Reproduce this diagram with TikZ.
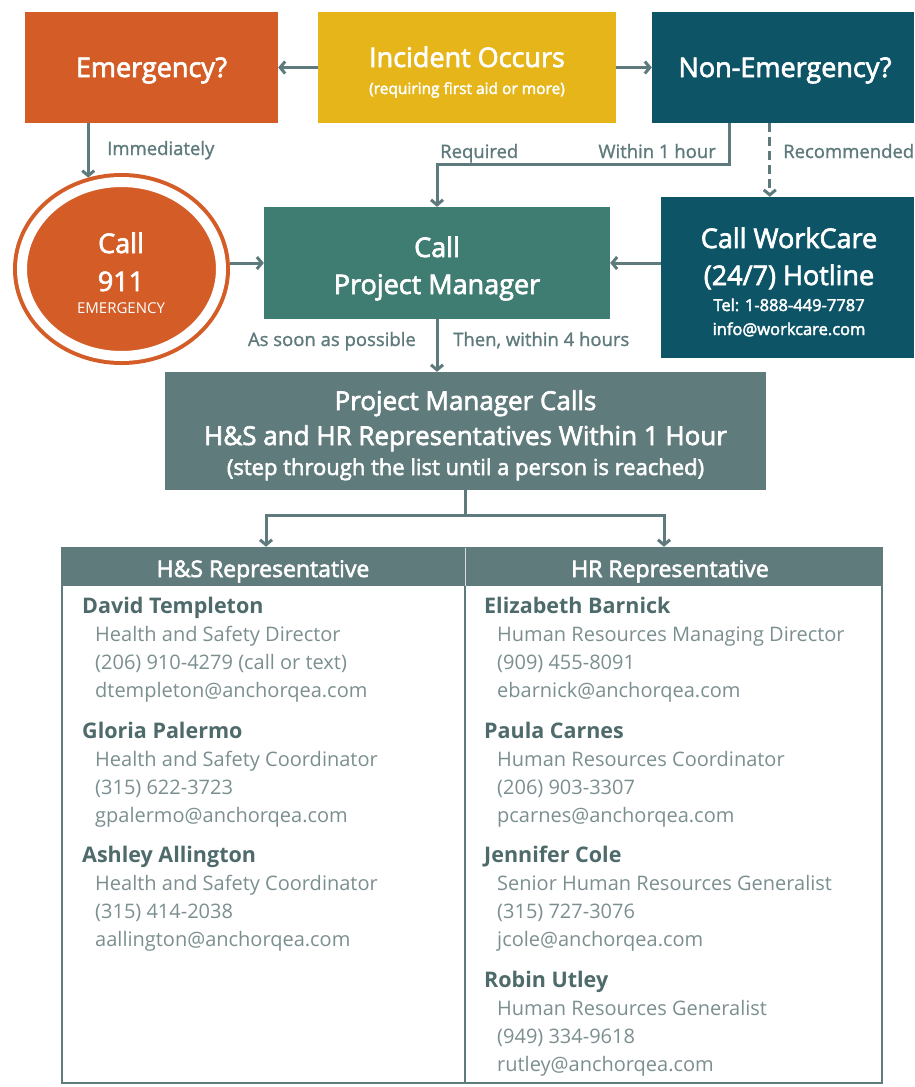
\documentclass[tikz,border=0pt]{standalone}
\usepackage{fontspec}
\setmainfont{Open Sans}
\newfontfamily\sbf[FakeBold=2.5]{Open Sans}
\newfontfamily\mbf[FakeBold=1.2]{Open Sans}
\usetikzlibrary{arrows.meta,shapes.geometric,calc}
\definecolor{orng}{HTML}{D45D27}
\definecolor{yell}{HTML}{E5B51A}
\definecolor{dteal}{HTML}{0E5467}
\definecolor{pmteal}{HTML}{3F7C72}
\definecolor{gteal}{HTML}{607B7C}
\definecolor{arrc}{HTML}{5E7A7C}
\definecolor{namec}{HTML}{4E6A6B}
\definecolor{detc}{HTML}{7C8F90}
\newcommand\fs[1]{\fontsize{#1}{#1}\selectfont}
\newcommand\contactentry[7]{%
  \node[nm] (#1) at (#2,#3) {#4};
  \node[dt] (#1a) at ({#2+13},{#3+28}) {#5};
  \node[dt] (#1b) at ({#2+13},{#3+56}) {#6};
  \node[dt] (#1c) at ({#2+13},{#3+84}) {#7};
}
\begin{document}
\begin{tikzpicture}[x=1pt,y=-1pt,
  blk/.style={rectangle, draw=none, inner sep=0pt},
  wt/.style={text=white, inner sep=0pt, anchor=base},
  arr/.style={draw=arrc, line width=3pt, -{Straight Barb[length=5pt,width=12pt]}},
  ln/.style={draw=arrc, line width=3pt},
  lab/.style={text=arrc, inner sep=0pt, font=\mbf\fs{18.5}},
  nm/.style={text=namec, inner sep=0pt, anchor=base west, font=\bfseries\fs{21.5}},
  dt/.style={text=detc, inner sep=0pt, anchor=base west, font=\fs{20}},
  ttl/.style={wt, font=\sbf\fs{27}},
]
\useasboundingbox (0,0) rectangle (914,1087);
\fill[white] (0,0) rectangle (914,1087);

% top row
\node[blk, fill=orng, minimum width=253pt, minimum height=111pt] (em) at (151.5,67.5) {};
\node[blk, fill=yell, minimum width=298pt, minimum height=111pt] (inc) at (467,67.5) {};
\node[blk, fill=dteal, minimum width=262pt, minimum height=111pt] (nonem) at (783,67.5) {};
\node[ttl] (emt) at (151.5,77) {Emergency?};
\node[ttl] (inct) at (467,67) {Incident Occurs};
\node[wt, font=\sbf\fs{15.5}] (incs) at (467,94) {(requiring first aid or more)};
\node[ttl] (nonemt) at (785,77) {Non-Emergency?};

% second row
\node[ellipse, minimum width=199pt, minimum height=174pt, inner sep=0pt, outer sep=9pt,
      fill=orng, draw=orng, double=white, double distance=10pt, line width=4pt] (circ) at (121.5,269) {};
\node[ttl] (c1) at (121,253) {Call};
\node[ttl] (c2) at (121,291) {911};
\node[wt, font=\fs{15}] (c3) at (121,313) {EMERGENCY};

\node[blk, fill=pmteal, minimum width=346pt, minimum height=112pt] (pm) at (437,263) {};
\node[ttl] (pm1) at (437,257) {Call};
\node[ttl] (pm2) at (437,294) {Project Manager};

\node[blk, fill=dteal, minimum width=253pt, minimum height=161pt] (wc) at (787.5,277.5) {};
\node[ttl] (wc1) at (789,248) {Call WorkCare};
\node[ttl] (wc2) at (789,285) {(24/7) Hotline};
\node[wt, font=\sbf\fs{16.5}] (wc3) at (789,311) {Tel: 1-888-449-7787};
\node[wt, font=\sbf\fs{16.5}] (wc4) at (789,335) {info@workcare.com};

% third row
\node[blk, fill=gteal, minimum width=601pt, minimum height=118pt] (pmc) at (465.5,431) {};
\node[wt, font=\sbf\fs{26}] (pmc1) at (465.5,410) {Project Manager Calls};
\node[wt, font=\sbf\fs{26}] (pmc2) at (465.5,445) {H\&S and HR Representatives Within 1 Hour};
\node[wt, font=\sbf\fs{22}] (pmc3) at (465.5,475) {(step through the list until a person is reached)};

% table
\node[blk, fill=gteal, minimum width=403pt, minimum height=38pt] (hsh) at (263.5,567) {};
\node[blk, fill=gteal, minimum width=417pt, minimum height=38pt] (hrh) at (673.5,567) {};
\node[rectangle, draw=gteal, line width=2.5pt, minimum width=820pt, minimum height=535pt, inner sep=0pt] (tbl) at (472,815.5) {};
\draw[draw=gteal, line width=2pt] (hsh.south east) -- (hsh.south east |- tbl.south);
\draw[draw=white!75!gteal, line width=1pt] (hsh.north east) -- (hsh.south east);
\node[wt, font=\sbf\fs{23}] (hst) at (263,577) {H\&S Representative};
\node[wt, font=\sbf\fs{23}] (hrt) at (670,577) {HR Representative};

\contactentry{dt1}{82}{613}{David Templeton}{Health and Safety Director}{(206) 910-4279 (call or text)}{dtempleton@anchorqea.com}
\contactentry{gp1}{82}{738}{Gloria Palermo}{Health and Safety Coordinator}{(315) 622-3723}{gpalermo@anchorqea.com}
\contactentry{aa1}{82}{862}{Ashley Allington}{Health and Safety Coordinator}{(315) 414-2038}{aallington@anchorqea.com}
\contactentry{eb1}{484}{613}{Elizabeth Barnick}{Human Resources Managing Director}{(909) 455-8091}{ebarnick@anchorqea.com}
\contactentry{pc1}{484}{738}{Paula Carnes}{Human Resources Coordinator}{(206) 903-3307}{pcarnes@anchorqea.com}
\contactentry{jc1}{484}{862}{Jennifer Cole}{Senior Human Resources Generalist}{(315) 727-3076}{jcole@anchorqea.com}
\contactentry{ru1}{484}{987}{Robin Utley}{Human Resources Generalist}{(949) 334-9618}{rutley@anchorqea.com}

% connectors
\draw[arr] (inc.west) -- (em.east);
\draw[arr] (inc.east) -- (nonem.west);
\draw[arr] (em.south -| circ.110) -- (circ.110);
\draw[arr] (circ.east |- pm.west) -- (pm.west);
\draw[arr] (wc.west |- pm.east) -- (pm.east);
\draw[arr] ($(nonem.south west)+(78,0)$) |- ($(pm.north)+(0,-42)$) -- (pm.north);
\draw[arr, dash pattern=on 9pt off 5pt] ($(nonem.south west)+(118,0)$) coordinate (d0) -- (d0 |- wc.north);
\draw[arr] (pm.south) -- (pm.south |- pmc.north);
\coordinate (sl) at (266,515);
\coordinate (sr) at (664,515);
\draw[ln] (pmc.south) -- (pmc.south |- sl);
\draw[ln, line cap=rect] (sl) -- (sr);
\draw[arr] (sl) -- (sl |- tbl.north);
\draw[arr] (sr) -- (sr |- tbl.north);

% labels
\node[lab, anchor=base west] (l1) at (107,155) {Immediately};
\node[lab, anchor=base west] (l2) at (440,158) {Required};
\node[lab, anchor=base east] (l3) at (716,158) {Within 1 hour};
\node[lab, anchor=base west] (l4) at (783,158) {Recommended};
\node[lab, anchor=base east] (l5) at (416,346) {As soon as possible};
\node[lab, anchor=base west] (l6) at (453,346) {Then, within 4 hours};
\end{tikzpicture}
\end{document}
